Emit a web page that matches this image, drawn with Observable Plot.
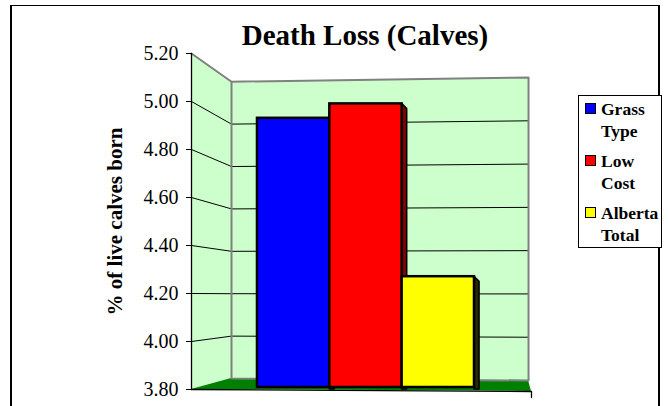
<!DOCTYPE html>
<html>
<head>
<meta charset="utf-8">
<script src="https://cdn.jsdelivr.net/npm/d3@7"></script>
<script src="https://cdn.jsdelivr.net/npm/@observablehq/plot@0.6"></script>
<style>
  body { margin: 0; background: #fff; }
  #wrap { position: relative; width: 669px; height: 406px; overflow: hidden;
          font-family: "Liberation Serif", "Times New Roman", serif; color: #000; }
  #chart { position: absolute; left: 0; top: 0; }
  #border { position: absolute; left: 10px; top: 5px; width: 650px; height: 440px;
            border: 2px solid #000; border-top-width: 1.5px; box-sizing: border-box; }
  #title { position: absolute; left: 0; width: 730px; top: 21px; text-align: center;
           font-weight: bold; font-size: 29px; line-height: 29px; white-space: nowrap; }
  #legend { position: absolute; left: 578px; top: 95px; width: 84px; height: 153px;
            border: 1px solid #000; box-sizing: border-box; background: #fff; }
  .item { position: relative; padding-left: 22px; font-weight: bold; font-size: 17.5px;
          line-height: 22px; margin-top: 8px; }
  .item:first-child { margin-top: 2px; }
  .sw { position: absolute; left: 6px; top: 5px; width: 11px; height: 11px;
        border: 1.5px solid #000; box-sizing: border-box; }
</style>
</head>
<body>
<div id="wrap">
  <div id="chart"></div>
  <div id="border"></div>
  <div id="title"></div>
  <div id="legend"></div>
</div>
<script>
// ---- data ----
const categories = ["Grass Type", "Low Cost", "Alberta Total"];
const legendLines = [["Grass", "Type"], ["Low", "Cost"], ["Alberta", "Total"]];
const values = [4.93, 4.99, 4.27];
const colors = ["#0000FF", "#FF0000", "#FFFF00"];
const sideColors = ["#00007F", "#7F0000", "#2A2A00"];
const yTicks = [3.8, 4.0, 4.2, 4.4, 4.6, 4.8, 5.0, 5.2];
const titleText = "Death Loss (Calves)";
const yLabel = "% of live calves born";

// ---- 3D frame layout (perspective of the walls, in scale units) ----
const yMin = yTicks[0], yMax = yTicks[yTicks.length - 1];
const FL = -0.912, FR = 3.788;      // front plane left / right (bar-width units)
const BL = -0.359, BR = 3.747;      // back wall left / right
const backL = v => 3.8458 + (v - yMin) * 0.8833;
const backR = v => 3.8375 + (v - yMin) * 0.9017;
const frontDrop = 0.0083;
const frontY = x => yMin - frontDrop * (x - FL) / (FR - FL);
const sideDX = 0.07, sideDY = 0.021;

const sideWall = [
  {x: FL, y1: yMin, y2: yMax},
  {x: BL, y1: backL(yMin), y2: backL(yMax)}
];
const backWall = [
  {x: BL, y1: backL(yMin), y2: backL(yMax)},
  {x: BR, y1: backR(yMin), y2: backR(yMax)}
];
const floor = [
  {x: FL, y1: frontY(FL), y2: frontY(FL)},
  {x: BL, y1: frontY(BL), y2: backL(yMin)},
  {x: BR, y1: frontY(BR), y2: backR(yMin)},
  {x: FR, y1: frontY(FR), y2: frontY(FR)}
];
const grid = yTicks.slice(1, -1).flatMap(v => [
  {k: v, x: FL, y: v}, {k: v, x: BL, y: backL(v)}, {k: v, x: BR, y: backR(v)}
]);
const edges = [
  {k: "side", x: FL, y: yMax}, {k: "side", x: BL, y: backL(yMax)},
  {k: "back", x: BL, y: backL(yMin)}, {k: "back", x: BL, y: backL(yMax)},
  {k: "back", x: BR, y: backR(yMax)}, {k: "back", x: BR, y: backR(yMin)},
  {k: "back", x: BL, y: backL(yMin)}
];
const axisLines = [
  {k: "v", x: FL, y: yMin}, {k: "v", x: FL, y: yMax},
  {k: "h", x: FL, y: frontY(FL)}, {k: "h", x: FR, y: frontY(FR)},
  {k: "h", x: FR, y: frontY(FR) - 0.025}
];

const bars = categories.map((c, i) => ({cat: c, x1: i, x2: i + 1, y1: yMin, y2: values[i], color: colors[i]}));
const sides = categories.flatMap((c, i) => [
  {cat: c, x: i + 1, y1: yMin, y2: values[i], color: sideColors[i]},
  {cat: c, x: i + 1 + sideDX, y1: yMin, y2: values[i] - sideDY, color: sideColors[i]}
]);

const chart = Plot.plot({
  width: 669,
  height: 406,
  marginLeft: 191,
  marginRight: 138,
  marginTop: 53,
  marginBottom: 17,
  x: {domain: [FL, FR], axis: null},
  y: {domain: [yMin, yMax]},
  color: {type: "identity"},
  style: {fontFamily: "'Liberation Serif', 'Times New Roman', serif", fontSize: "20px",
          background: "transparent", color: "#000", overflow: "visible"},
  marks: [
    Plot.areaY(backWall, {x: "x", y1: "y1", y2: "y2", fill: "#CCFFCC"}),
    Plot.areaY(sideWall, {x: "x", y1: "y1", y2: "y2", fill: "#CCFFCC"}),
    Plot.areaY(floor, {x: "x", y1: "y1", y2: "y2", fill: "#008000"}),
    Plot.line(grid, {x: "x", y: "y", z: "k", stroke: "#000", strokeWidth: 1}),
    Plot.line(edges, {x: "x", y: "y", z: "k", stroke: "#808080", strokeWidth: 2}),
    Plot.line(axisLines, {x: "x", y: "y", z: "k", stroke: "#000", strokeWidth: 1.3}),
    Plot.axisY(yTicks, {anchor: "left", tickSize: 5, tickPadding: 8, fontSize: 20,
                        tickFormat: d => d.toFixed(2), label: null}),
    Plot.text([yLabel], {text: d => d, frameAnchor: "left", textAnchor: "middle",
                         lineAnchor: "middle", dx: -76, rotate: -90,
                         fontSize: 21, fontWeight: "bold"}),
    Plot.areaY(sides, {x: "x", y1: "y1", y2: "y2", z: "cat", fill: "color",
                       stroke: "#000", strokeWidth: 1.5}),
    Plot.rect(bars, {x1: "x1", x2: "x2", y1: "y1", y2: "y2", fill: "color",
                     stroke: "#000", strokeWidth: 2.5, insetBottom: 2})
  ]
});
document.getElementById("chart").appendChild(chart);

document.getElementById("title").textContent = titleText;
const legend = document.getElementById("legend");
legendLines.forEach((lines, i) => {
  const item = document.createElement("div");
  item.className = "item";
  const sw = document.createElement("div");
  sw.className = "sw";
  sw.style.background = colors[i];
  item.appendChild(sw);
  lines.forEach((t, j) => {
    if (j) item.appendChild(document.createElement("br"));
    item.appendChild(document.createTextNode(t));
  });
  legend.appendChild(item);
});
</script>
</body>
</html>
